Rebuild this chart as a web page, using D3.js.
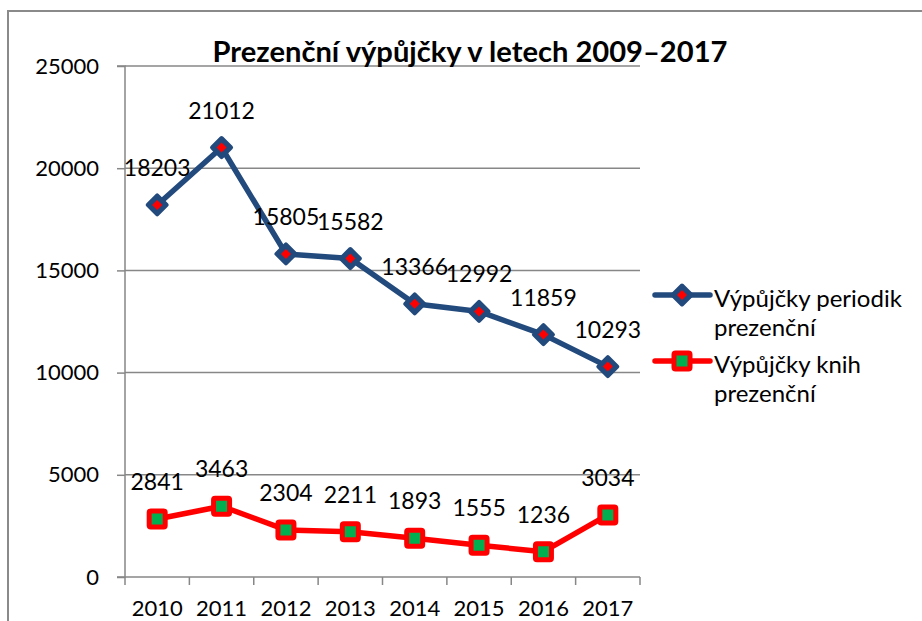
<!DOCTYPE html>
<html><head><meta charset="utf-8">
<script src="https://cdn.jsdelivr.net/npm/d3@7"></script>
<style>body{margin:0;background:#fff}svg{display:block}text{font-family:Lato,"Open Sans",sans-serif;fill:#000}</style>
</head><body><svg id="c" width="922" height="621"></svg>
<script>
const title = "Prezenční výpůjčky v letech 2009–2017";
const years = ["2010","2011","2012","2013","2014","2015","2016","2017"];
const periodika = [18203,21012,15805,15582,13366,12992,11859,10293];
const knihy = [2841,3463,2304,2211,1893,1555,1236,3034];
const yTicks = [0,5000,10000,15000,20000,25000];
const seriesNames = [["Výpůjčky periodik","prezenční"],["Výpůjčky knih","prezenční"]];

const svg = d3.select("#c");
const W = 922, H = 621;
const m = {left:125, right:282, top:66, bottom:44};
const x = d3.scaleBand().domain(years).range([m.left, W - m.right]).padding(0);
const y = d3.scaleLinear().domain([0,25000]).range([H - m.bottom, m.top]);
const blue = "#234A7C", red = "#FF0000", green = "#00B050", grid = "#878787";

// outer border
svg.append("rect").attr("x",8).attr("y",11).attr("width",W+20).attr("height",H+20)
  .attr("fill","none").attr("stroke","#8a8a8a").attr("stroke-width",2);

// gridlines
svg.append("g").selectAll("line").data(yTicks.filter(d=>d>0)).join("line")
  .attr("x1",m.left).attr("x2",W-m.right).attr("y1",d=>y(d)).attr("y2",d=>y(d))
  .attr("stroke",grid).attr("stroke-width",1.5);

// y axis
const ya = svg.append("g").attr("transform",`translate(${m.left},0)`)
  .call(d3.axisLeft(y).tickValues(yTicks).tickSize(8).tickPadding(18).tickFormat(d3.format("d")));
ya.select(".domain").attr("stroke",grid).attr("stroke-width",1.5).attr("d",`M-8,${y(0)}H0V${y(25000)}H-8`);
ya.selectAll(".tick line").attr("stroke",grid).attr("stroke-width",1.5);
ya.selectAll(".tick text").attr("font-size",22).attr("font-family","Lato").attr("fill","#000");

// x axis
const xa = svg.append("g").attr("transform",`translate(0,${y(0)})`)
  .call(d3.axisBottom(x).tickSize(0).tickPadding(0));
xa.select(".domain").attr("stroke",grid).attr("stroke-width",1.5).attr("d",`M${m.left},0H${W-m.right}`);
xa.selectAll(".tick text").attr("font-size",22).attr("font-family","Lato").attr("fill","#000")
  .attr("dy",null).attr("y",39);
// category boundary ticks
const bounds = years.map(d=>x(d)).concat([x(years[years.length-1])+x.bandwidth()]);
xa.append("g").selectAll("line").data(bounds).join("line")
  .attr("x1",d=>d).attr("x2",d=>d).attr("y1",0).attr("y2",8)
  .attr("stroke",grid).attr("stroke-width",1.5);

const cx = d => x(d) + x.bandwidth()/2;
const line = d3.line().x((d,i)=>cx(years[i])).y(d=>y(d));

// blue series
svg.append("path").datum(periodika).attr("d",line).attr("fill","none")
  .attr("stroke",blue).attr("stroke-width",5.5).attr("stroke-linejoin","round");
const diamond = (s) => `M0,${-s}L${s},0L0,${s}L${-s},0Z`;
const bp = svg.append("g").selectAll("g").data(periodika).join("g")
  .attr("transform",(d,i)=>`translate(${cx(years[i])},${y(d)})`);
bp.append("path").attr("d",diamond(9.5)).attr("fill",blue).attr("stroke",blue).attr("stroke-width",4).attr("stroke-linejoin","round");
bp.append("path").attr("d",diamond(5)).attr("fill",red);

// red series
svg.append("path").datum(knihy).attr("d",line).attr("fill","none")
  .attr("stroke",red).attr("stroke-width",5.5).attr("stroke-linejoin","round");
const rp = svg.append("g").selectAll("g").data(knihy).join("g")
  .attr("transform",(d,i)=>`translate(${cx(years[i])},${y(d)})`);
rp.append("rect").attr("x",-8).attr("y",-8).attr("width",16).attr("height",16)
  .attr("fill",green).attr("stroke",red).attr("stroke-width",5).attr("rx",1.5);

// data labels
function labels(data){
  svg.append("g").selectAll("text").data(data).join("text")
    .attr("x",(d,i)=>cx(years[i])).attr("y",d=>y(d)-29)
    .attr("text-anchor","middle").attr("font-size",23).text(d=>d);
}
labels(periodika); labels(knihy);

// title
const t = svg.append("text").attr("x",470).attr("y",62).attr("text-anchor","middle")
  .attr("font-weight","bold").attr("font-size",26).text(title);
const tw = t.node().getComputedTextLength();
t.attr("font-size", 26*515/tw);

// legend
const leg = [{c:blue, y:295, lines:seriesNames[0], k:"d"},{c:red, y:361, lines:seriesNames[1], k:"s"}];
leg.forEach(L=>{
  const g = svg.append("g");
  g.append("line").attr("x1",655).attr("x2",710).attr("y1",L.y).attr("y2",L.y)
    .attr("stroke",L.c).attr("stroke-width",5.5).attr("stroke-linecap","round");
  const mk = g.append("g").attr("transform",`translate(682,${L.y})`);
  if(L.k==="d"){
    mk.append("path").attr("d",diamond(9.5)).attr("fill",blue).attr("stroke",blue).attr("stroke-width",4).attr("stroke-linejoin","round");
    mk.append("path").attr("d",diamond(5)).attr("fill",red);
  } else {
    mk.append("rect").attr("x",-8).attr("y",-8).attr("width",16).attr("height",16)
      .attr("fill",green).attr("stroke",red).attr("stroke-width",5).attr("rx",1.5);
  }
  L.lines.forEach((s,j)=>{
    g.append("text").attr("x",714).attr("y",L.y+12+j*29).attr("font-size",24).text(s);
  });
});
</script></body></html>
